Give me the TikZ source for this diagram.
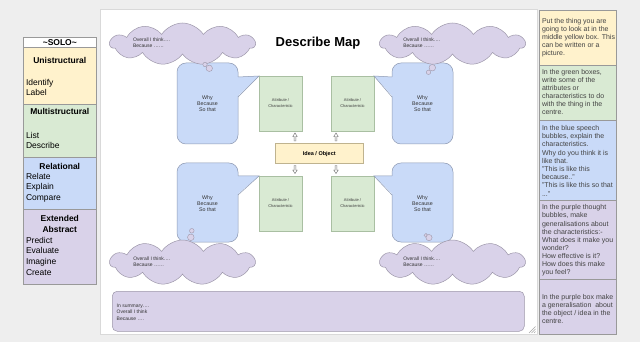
\documentclass[tikz,border=0pt]{standalone}
\usepackage{fontspec}
\setmainfont{Liberation Sans}
\usetikzlibrary{shapes.symbols,calc}
\definecolor{bgc}{HTML}{EEEEEE}
\definecolor{yel}{HTML}{FFF2CC}
\definecolor{grn}{HTML}{D9EAD3}
\definecolor{blu}{HTML}{C9DAF8}
\definecolor{pur}{HTML}{D9D2E9}
\definecolor{edge}{HTML}{999999}
\definecolor{yeledge}{HTML}{BFB38F}
\definecolor{grnedge}{HTML}{A9BFA2}
\definecolor{bluedge}{HTML}{8E9AB3}
\definecolor{puredge}{HTML}{9D97AA}
\definecolor{txt}{HTML}{434343}
\tikzset{hollowup/.pic={\draw[draw=black!55, fill=white, line width=0.45pt] (0,-4) -- (2.2,-0.6) -- (0.8,-0.6) -- (0.8,4) -- (-0.8,4) -- (-0.8,-0.6) -- (-2.2,-0.6) -- cycle;}}
\begin{document}
\begin{tikzpicture}[x=1pt,y=-1pt,
  ln/.style={inner sep=0pt, outer sep=0pt, text depth=0pt},
  lhead/.style={ln, anchor=center, font=\bfseries\fontsize{8.5}{10}\selectfont, text height=6.1pt},
  litem/.style={ln, anchor=west, font=\fontsize{8.5}{10}\selectfont, text height=6.1pt},
  rtext/.style={ln, anchor=west, text=txt, font=\fontsize{7}{8}\selectfont, text height=5pt},
  ctext/.style={ln, anchor=west, text=black!80, font=\fontsize{5}{6}\selectfont, text height=3.6pt},
  btext/.style={ln, anchor=center, text=black!80, font=\fontsize{5.3}{6}\selectfont, text height=3.8pt},
  gtext/.style={ln, anchor=center, text=black!75, font=\fontsize{4}{5}\selectfont, text height=2.9pt},
  cellbox/.style={draw=edge, line width=0.6pt, anchor=north west, inner sep=0pt, outer sep=0pt},
  bubble/.style={draw=bluedge, fill=blu, line width=0.5pt, rounded corners=9pt, anchor=north west, inner sep=0pt, outer sep=0pt, minimum width=61pt},
  greenbox/.style={draw=grnedge, fill=grn, line width=0.6pt, anchor=north west, inner sep=0pt, outer sep=0pt, minimum width=43pt, minimum height=55pt},
  thought/.style={cloud, cloud puffs=11, cloud puff arc=115, cloud ignores aspect, draw=puredge, fill=pur, line width=0.5pt, inner sep=0pt, minimum width=145pt},
  dot/.style={circle, draw=puredge, fill=pur, line width=0.4pt, inner sep=0pt},
  pointer/.style={draw=bluedge, line width=0.5pt},
]
\fill[bgc] (0,0) rectangle (640,342);
\useasboundingbox (0,0) rectangle (640,342);

% page
\node[draw=black!15, fill=white, line width=0.5pt, anchor=north west, inner sep=0pt, minimum width=436.5pt, minimum height=324.5pt] (page) at (100,9.5) {};
\draw[black!35, line width=0.4pt] (529,333) -- (535.5,326.5) (531.5,333) -- (535.5,329) (534,333) -- (535.5,331.5);

% left SOLO panel
\node[cellbox, fill=white, minimum width=73.7pt, minimum height=10.5pt] (solo) at (23,37) {};
\node[cellbox, fill=yel, minimum width=73.7pt, minimum height=56.5pt] (uni) at (23,47.5) {};
\node[cellbox, fill=grn, minimum width=73.7pt, minimum height=53.7pt] (multi) at (23,104) {};
\node[cellbox, fill=blu, minimum width=73.7pt, minimum height=51.3pt] (rel) at (23,157.7) {};
\node[cellbox, fill=pur, minimum width=73.7pt, minimum height=75.3pt] (ext) at (23,209) {};

\node[lhead] (solot) at (59.8,42.3) {\textasciitilde SOLO\textasciitilde};
\node[lhead] (unih) at (59.8,60.7) {Unistructural};
\node[litem] (uni1) at (26,82.3) {Identify};
\node[litem] (uni2) at (26,92.5) {Label};
\node[lhead] (multih) at (59.8,111.7) {Multistructural};
\node[litem] (multi1) at (26,135) {List};
\node[litem] (multi2) at (26,145.7) {Describe};
\node[lhead] (relh) at (59.8,166) {Relational};
\node[litem] (rel1) at (26,176.2) {Relate};
\node[litem] (rel2) at (26,186.7) {Explain};
\node[litem] (rel3) at (26,197.3) {Compare};
\node[lhead] (exth1) at (59.8,218.3) {Extended};
\node[lhead] (exth2) at (59.8,229) {Abstract};
\node[litem] (ext1) at (26,240) {Predict};
\node[litem] (ext2) at (26,250.7) {Evaluate};
\node[litem] (ext3) at (26,261.3) {Imagine};
\node[litem] (ext4) at (26,272) {Create};

% right instruction panel
\node[cellbox, fill=yel, minimum width=77pt, minimum height=55pt] (ry) at (539.7,10) {};
\node[cellbox, fill=grn, minimum width=77pt, minimum height=55pt] (rg) at (539.7,65) {};
\node[cellbox, fill=blu, minimum width=77pt, minimum height=80pt] (rb) at (539.7,120) {};
\node[cellbox, fill=pur, minimum width=77pt, minimum height=79.7pt] (rp) at (539.7,200) {};
\node[cellbox, fill=pur, minimum width=77pt, minimum height=55pt] (rs) at (539.7,279.7) {};

\foreach \t [count=\i from 0] in {{Put the thing you are},{going to look at in the},{middle yellow box. This},{can be written or a},{picture.}}
  \node[rtext] (ryt\i) at (542,{21+8*\i}) {\t};
\foreach \t [count=\i from 0] in {{In the green boxes,},{write some of the},{attributes or},{characteristics to do},{with the thing in the},{centre.}}
  \node[rtext] (rgt\i) at (542,{72+8*\i}) {\t};
\node[rtext] (rbt0) at (542,128) {In the blue speech};
\node[rtext] (rbt1) at (542,136.2) {bubbles, explain the};
\node[rtext] (rbt2) at (542,144.4) {characteristics.};
\node[rtext] (rbt3) at (542,152.6) {Why do you think it is};
\node[rtext] (rbt4) at (542,160.8) {like that.};
\node[rtext] (rbt5) at (542,169) {"This is like this};
\node[rtext] (rbt6) at (542,177.2) {because.."};
\node[rtext] (rbt7) at (542,185.4) {"This is like this so that};
\node[rtext] (rbt8) at (542,193.6) {..."};
\foreach \t [count=\i from 0] in {{In the purple thought},{bubbles, make},{generalisations about},{the characteristics:-},{What does it make you},{wonder?},{How effective is it?},{How does this make},{you feel?}}
  \node[rtext] (rpt\i) at (542,{207.3+8.1*\i}) {\t};
\foreach \t [count=\i from 0] in {{In the purple box make},{a generalisation\ \ about},{the object / idea in the},{centre.}}
  \node[rtext] (rst\i) at (542,{297+7.9*\i}) {\t};

% title
\node[ln, font=\bfseries\fontsize{13}{15}\selectfont, text height=9.3pt] (title) at (318,42) {Describe Map};

% green attribute boxes
\node[greenbox] (g1) at (259,76) {};
\node[greenbox] (g2) at (331,76) {};
\node[greenbox] (g3) at (259,176) {};
\node[greenbox] (g4) at (331,176) {};
\foreach \g in {g1,g2,g3,g4}{
  \node[gtext] (\g a) at ($(\g.north)+(0,24.5)$) {Attribute /};
  \node[gtext] (\g b) at ($(\g.north)+(0,30)$) {Characteristic};
}

% idea box
\node[draw=yeledge, fill=yel, line width=0.6pt, anchor=north west, inner sep=0pt, minimum width=88pt, minimum height=20pt] (idea) at (275,143) {};
\node[ln, font=\bfseries\fontsize{5.5}{6}\selectfont, text height=4pt] (ideat) at (idea.center) {Idea / Object};

% hollow arrows
\pic (a1) at (295,137) {hollowup};
\pic (a2) at (336,137) {hollowup};
\pic[yscale=-1] (a3) at (295,169.5) {hollowup};
\pic[yscale=-1] (a4) at (336,169.5) {hollowup};

% speech bubbles
\node[bubble, minimum height=81pt] (b1) at (177,63) {};
\node[bubble, minimum height=81pt] (b2) at (392,63) {};
\node[bubble, minimum height=79pt] (b3) at (177,163) {};
\node[bubble, minimum height=79pt] (b4) at (392,163) {};

\fill[blu] ($(b1.north east)+(-1.2,14)$) -- (g1.north west) -- ($(b1.north east)+(-1.2,34)$) -- cycle;
\draw[pointer] ($(b1.north east)+(0,14)$) -- (g1.north west) -- ($(b1.north east)+(0,34)$);
\fill[blu] ($(b2.north west)+(1.2,14)$) -- (g2.north east) -- ($(b2.north west)+(1.2,34)$) -- cycle;
\draw[pointer] ($(b2.north west)+(0,14)$) -- (g2.north east) -- ($(b2.north west)+(0,34)$);
\fill[blu] ($(b3.north east)+(-1.2,13)$) -- (g3.north west) -- ($(b3.north east)+(-1.2,32)$) -- cycle;
\draw[pointer] ($(b3.north east)+(0,13)$) -- (g3.north west) -- ($(b3.north east)+(0,32)$);
\fill[blu] ($(b4.north west)+(1.2,13)$) -- (g4.north east) -- ($(b4.north west)+(1.2,32)$) -- cycle;
\draw[pointer] ($(b4.north west)+(0,13)$) -- (g4.north east) -- ($(b4.north west)+(0,32)$);

\foreach \b in {b1,b2,b3,b4}{
  \node[btext] (\b w) at ($(\b.north)+(0,34.7)$) {Why};
  \node[btext] (\b x) at ($(\b.north)+(0,40.7)$) {Because};
  \node[btext] (\b y) at ($(\b.north)+(0,46.7)$) {So that};
}

% thought clouds
\node[thought, minimum height=42pt] (c1) at (182.5,44) {};
\node[thought, minimum height=42pt] (c2) at (452.5,44) {};
\node[thought, minimum height=45pt] (c3) at (182.5,262.5) {};
\node[thought, minimum height=45pt] (c4) at (452.5,262.5) {};

\node[dot, minimum size=4.4pt] (d1b) at (205,64.5) {};
\node[dot, minimum size=6.4pt] (d1a) at (209.3,68.3) {};
\node[dot, minimum size=6.6pt] (d2a) at (432.3,67.7) {};
\node[dot, minimum size=4.4pt] (d2b) at (428.5,72.3) {};
\node[dot, minimum size=4.6pt] (d3b) at (191.8,230.8) {};
\node[dot, minimum size=6.6pt] (d3a) at (190.8,237.3) {};
\node[dot, minimum size=3.8pt] (d4b) at (425.9,235.3) {};
\node[dot, minimum size=6.2pt] (d4a) at (429,237.6) {};

\node[ctext] (c1a) at (133,40) {Overall I think….};
\node[ctext] (c1b) at (133,45.7) {Because ……};
\node[ctext] (c2a) at (403.3,40) {Overall I think….};
\node[ctext] (c2b) at (403.3,45.7) {Because ……};
\node[ctext] (c3a) at (133.3,258.7) {Overall I think….};
\node[ctext] (c3b) at (133.3,265) {Because ……};
\node[ctext] (c4a) at (403.3,258.7) {Overall I think….};
\node[ctext] (c4b) at (403.3,265) {Because ……};

% summary box
\node[draw=puredge, fill=pur, line width=0.5pt, rounded corners=5pt, anchor=north west, inner sep=0pt, minimum width=412pt, minimum height=40pt] (sum) at (112,291) {};
\node[ctext] (s1) at (116.7,305.3) {In summary….};
\node[ctext] (s2) at (116.7,311.7) {Overall I think};
\node[ctext] (s3) at (116.7,318.3) {Because ….};
\end{tikzpicture}
\end{document}
